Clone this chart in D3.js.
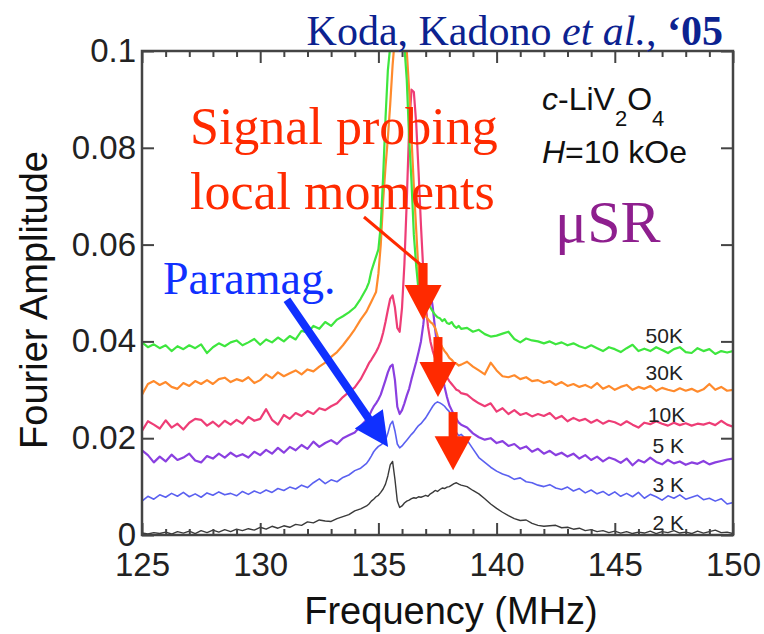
<!DOCTYPE html>
<html lang="en">
<head>
  <meta charset="utf-8" />
  <title>muSR Fourier spectra</title>
  <script src="https://cdn.jsdelivr.net/npm/d3@7"></script>
  <style>
    body { margin: 0; background: #fff; }
    .tick text { font-family: "Liberation Sans", Arial, sans-serif; font-size: 33px; fill: #222; }
    .tick line { stroke: #444; stroke-width: 2; }
    .serif { font-family: "Liberation Serif", "Times New Roman", serif; }
    .sans { font-family: "Liberation Sans", Arial, sans-serif; }
  </style>
</head>
<body>
  <script>
    // frequency grid (MHz): coarse, fine near the lines, coarse
    var freq = [].concat(
      d3.range(38).map(function (i) { return 125 + 0.25 * i; }),
      d3.range(41).map(function (i) { return 134.5 + 0.1 * i; }),
      d3.range(46).map(function (i) { return 138.75 + 0.25 * i; })
    );

    var temps = ["2 K", "3 K", "5 K", "10K", "30K", "50K"];

    var amp2K = [
      0.0004, 0.0002, 0.0005, 0.0003, 0.0006, 0.0002, 0.0007, 0.0004, 0.0008, 0.0003,
      0.0009, 0.0005, 0.0010, 0.0006, 0.0011, 0.0007, 0.0012, 0.0009, 0.0013, 0.0010,
      0.0016, 0.0012, 0.0018, 0.0014, 0.0019, 0.0016, 0.0022, 0.0020, 0.0027, 0.0025,
      0.0031, 0.0029, 0.0028, 0.0034, 0.0038, 0.0042, 0.0050, 0.0054,
      0.0060, 0.0064, 0.0070, 0.0074, 0.0079, 0.0082,
      0.0088, 0.0095, 0.0105, 0.0122, 0.0145, 0.0152, 0.0115, 0.0070, 0.0057,
      0.0060, 0.0066, 0.0070, 0.0072, 0.0075, 0.0077, 0.0076, 0.0079, 0.0078, 0.0080,
      0.0082, 0.0080, 0.0085, 0.0088, 0.0092, 0.0090, 0.0094, 0.0097, 0.0096, 0.0099,
      0.0100, 0.0103, 0.0106, 0.0108, 0.0105, 0.0103,
      0.0100, 0.0092, 0.0085, 0.0075, 0.0064, 0.0055, 0.0047, 0.0040, 0.0034, 0.0030,
      0.0031, 0.0024, 0.0020, 0.0018, 0.0019, 0.0020, 0.0015, 0.0016, 0.0012, 0.0014,
      0.0009, 0.0011, 0.0007, 0.0009, 0.0005, 0.0008, 0.0004, 0.0007, 0.0003, 0.0006,
      0.0004, 0.0008, 0.0003, 0.0007, 0.0005, 0.0009, 0.0004, 0.0006, 0.0003, 0.0008,
      0.0004, 0.0007, 0.0010, 0.0005, 0.0006, 0.0003
    ];
    var amp3K = [
      0.0070, 0.0080, 0.0074, 0.0083, 0.0078, 0.0086, 0.0080, 0.0088, 0.0079, 0.0085,
      0.0078, 0.0087, 0.0082, 0.0089, 0.0083, 0.0086, 0.0081, 0.0090, 0.0084, 0.0091,
      0.0086, 0.0093, 0.0088, 0.0096, 0.0092, 0.0099, 0.0095, 0.0103, 0.0098, 0.0108,
      0.0116, 0.0106, 0.0114, 0.0110, 0.0119, 0.0124, 0.0133, 0.0138,
      0.0148, 0.0155, 0.0163, 0.0172, 0.0178, 0.0183,
      0.0186, 0.0190, 0.0196, 0.0210, 0.0228, 0.0235, 0.0215, 0.0188, 0.0180,
      0.0184, 0.0190, 0.0196, 0.0202, 0.0208, 0.0213, 0.0220, 0.0226, 0.0230, 0.0236,
      0.0242, 0.0250, 0.0258, 0.0266, 0.0272, 0.0275, 0.0273, 0.0270, 0.0266, 0.0260,
      0.0255, 0.0248, 0.0230, 0.0212, 0.0205, 0.0208,
      0.0196, 0.0178, 0.0160, 0.0150, 0.0140, 0.0132, 0.0126, 0.0122, 0.0115, 0.0118,
      0.0110, 0.0108, 0.0103, 0.0100, 0.0104, 0.0097, 0.0094, 0.0099, 0.0091, 0.0096,
      0.0087, 0.0093, 0.0085, 0.0090, 0.0082, 0.0089, 0.0080, 0.0086, 0.0079, 0.0088,
      0.0076, 0.0084, 0.0079, 0.0072, 0.0081, 0.0076, 0.0083, 0.0074, 0.0078, 0.0082,
      0.0073, 0.0076, 0.0070, 0.0075, 0.0064, 0.0067
    ];
    var amp5K = [
      0.0175, 0.0165, 0.0150, 0.0162, 0.0152, 0.0166, 0.0155, 0.0160, 0.0168, 0.0154,
      0.0150, 0.0163, 0.0158, 0.0168, 0.0160, 0.0170, 0.0162, 0.0167, 0.0160, 0.0172,
      0.0165, 0.0176, 0.0168, 0.0180, 0.0170, 0.0182, 0.0175, 0.0186, 0.0178, 0.0193,
      0.0182, 0.0190, 0.0196, 0.0188, 0.0200, 0.0206, 0.0212, 0.0225,
      0.0238, 0.0245, 0.0256, 0.0265, 0.0272, 0.0280,
      0.0290, 0.0305, 0.0320, 0.0336, 0.0348, 0.0352, 0.0320, 0.0265, 0.0250,
      0.0258, 0.0272, 0.0288, 0.0302, 0.0322, 0.0340, 0.0358, 0.0378, 0.0400, 0.0435,
      0.0480, 0.0515, 0.0505, 0.0470, 0.0425, 0.0385, 0.0355, 0.0330, 0.0306, 0.0285,
      0.0268, 0.0258, 0.0248, 0.0240, 0.0232, 0.0228,
      0.0222, 0.0210, 0.0202, 0.0197, 0.0200, 0.0190, 0.0194, 0.0184, 0.0188, 0.0178,
      0.0183, 0.0172, 0.0178, 0.0168, 0.0174, 0.0165, 0.0170, 0.0162, 0.0168, 0.0158,
      0.0165, 0.0155, 0.0162, 0.0152, 0.0160, 0.0156, 0.0149, 0.0158, 0.0144, 0.0155,
      0.0150, 0.0160, 0.0151, 0.0146, 0.0155, 0.0148, 0.0152, 0.0145, 0.0150, 0.0147,
      0.0153, 0.0146, 0.0150, 0.0153, 0.0156, 0.0158
    ];
    var amp10K = [
      0.0215, 0.0235, 0.0228, 0.0220, 0.0237, 0.0222, 0.0230, 0.0218, 0.0232, 0.0240,
      0.0238, 0.0226, 0.0234, 0.0224, 0.0236, 0.0228, 0.0238, 0.0230, 0.0244, 0.0236,
      0.0240, 0.0260, 0.0238, 0.0228, 0.0248, 0.0240, 0.0252, 0.0246, 0.0256, 0.0250,
      0.0262, 0.0258, 0.0266, 0.0272, 0.0285, 0.0295, 0.0305, 0.0322,
      0.0345, 0.0355, 0.0362, 0.0370, 0.0378, 0.0388,
      0.0400, 0.0418, 0.0440, 0.0465, 0.0488, 0.0495, 0.0470, 0.0428, 0.0420,
      0.0470, 0.0560, 0.0690, 0.0840, 0.0920, 0.0915, 0.0850, 0.0750, 0.0640, 0.0545,
      0.0475, 0.0430, 0.0400, 0.0380, 0.0365, 0.0356, 0.0346, 0.0340, 0.0330, 0.0326,
      0.0318, 0.0312, 0.0306, 0.0300, 0.0298, 0.0293,
      0.0290, 0.0280, 0.0272, 0.0266, 0.0272, 0.0255, 0.0262, 0.0250, 0.0258, 0.0248,
      0.0252, 0.0245, 0.0250, 0.0246, 0.0252, 0.0240, 0.0246, 0.0235, 0.0242, 0.0236,
      0.0240, 0.0232, 0.0238, 0.0230, 0.0236, 0.0233, 0.0227, 0.0235, 0.0228, 0.0222,
      0.0232, 0.0229, 0.0235, 0.0230, 0.0226, 0.0232, 0.0227, 0.0231, 0.0226, 0.0230,
      0.0228, 0.0232, 0.0227, 0.0236, 0.0228, 0.0224
    ];
    var amp30K = [
      0.0290, 0.0312, 0.0318, 0.0310, 0.0316, 0.0306, 0.0302, 0.0314, 0.0308, 0.0318,
      0.0312, 0.0320, 0.0312, 0.0322, 0.0325, 0.0316, 0.0322, 0.0318, 0.0326, 0.0314,
      0.0320, 0.0332, 0.0324, 0.0336, 0.0328, 0.0334, 0.0340, 0.0332, 0.0342, 0.0338,
      0.0348, 0.0356, 0.0368, 0.0378, 0.0392, 0.0408, 0.0425, 0.0445,
      0.0462, 0.0472, 0.0482, 0.0492, 0.0502, 0.0540,
      0.0600, 0.0690, 0.0760, 0.0820, 0.0890, 0.0970, 0.1030, 0.1080, 0.1100,
      0.1080, 0.1040, 0.1000, 0.0920, 0.0820, 0.0720, 0.0630, 0.0540, 0.0480, 0.0462,
      0.0452, 0.0446, 0.0440, 0.0436, 0.0428, 0.0412, 0.0398, 0.0388, 0.0380, 0.0374,
      0.0366, 0.0362, 0.0356, 0.0354, 0.0350, 0.0352,
      0.0358, 0.0348, 0.0340, 0.0332, 0.0356, 0.0340, 0.0328, 0.0326, 0.0330, 0.0322,
      0.0326, 0.0318, 0.0320, 0.0314, 0.0318, 0.0310, 0.0316, 0.0308, 0.0312, 0.0306,
      0.0310, 0.0304, 0.0314, 0.0302, 0.0308, 0.0300, 0.0306, 0.0310, 0.0300, 0.0306,
      0.0302, 0.0308, 0.0298, 0.0304, 0.0300, 0.0297, 0.0303, 0.0298, 0.0302, 0.0296,
      0.0301, 0.0312, 0.0300, 0.0306, 0.0298, 0.0300
    ];
    var amp50K = [
      0.0398, 0.0388, 0.0394, 0.0386, 0.0392, 0.0380, 0.0390, 0.0384, 0.0392, 0.0386,
      0.0394, 0.0376, 0.0388, 0.0396, 0.0390, 0.0398, 0.0402, 0.0392, 0.0398, 0.0405,
      0.0393, 0.0404, 0.0398, 0.0408, 0.0400, 0.0411, 0.0404, 0.0422, 0.0418, 0.0432,
      0.0426, 0.0440, 0.0432, 0.0445, 0.0452, 0.0460, 0.0470, 0.0488,
      0.0510, 0.0522, 0.0545, 0.0560, 0.0575, 0.0590,
      0.0640, 0.0740, 0.0860, 0.0960, 0.1010, 0.1060, 0.1080, 0.1090, 0.1080,
      0.1060, 0.1010, 0.0940, 0.0820, 0.0730, 0.0620, 0.0555, 0.0505, 0.0490, 0.0486,
      0.0484, 0.0478, 0.0470, 0.0462, 0.0455, 0.0450, 0.0448, 0.0442, 0.0446, 0.0438,
      0.0436, 0.0440, 0.0432, 0.0428, 0.0432, 0.0426,
      0.0428, 0.0420, 0.0424, 0.0415, 0.0410, 0.0412, 0.0416, 0.0420, 0.0405, 0.0398,
      0.0406, 0.0402, 0.0400, 0.0396, 0.0400, 0.0394, 0.0398, 0.0392, 0.0396, 0.0390,
      0.0386, 0.0392, 0.0386, 0.0380, 0.0388, 0.0384, 0.0378, 0.0386, 0.0393, 0.0380,
      0.0385, 0.0380, 0.0388, 0.0382, 0.0376, 0.0384, 0.0388, 0.0378, 0.0376, 0.0386,
      0.0380, 0.0384, 0.0374, 0.0380, 0.0377, 0.0380
    ];

    var xTicks = [125, 130, 135, 140, 145, 150];
    var yTicks = [0, 0.02, 0.04, 0.06, 0.08, 0.1];

    var series = [amp2K, amp3K, amp5K, amp10K, amp30K, amp50K];
    var colors = ["#3a3a3a", "#5a60f0", "#8a3fe0", "#ee3d76", "#ff8a2c", "#3ee63e"];
    var widths = [1.4, 1.6, 2.2, 2.2, 2.2, 2.2];

    var width = 764, height = 634;
    var pL = 142, pR = 733, pT = 51, pB = 535;

    var svg = d3.select("body").append("svg")
      .attr("width", width)
      .attr("height", height);

    var x = d3.scaleLinear().domain([125, 150]).range([pL, pR]);
    var y = d3.scaleLinear().domain([0, 0.1]).range([pB, pT]);

    svg.append("clipPath").attr("id", "plot")
      .append("rect")
      .attr("x", pL).attr("y", pT)
      .attr("width", pR - pL).attr("height", pB - pT);

    // curves
    var line = d3.line()
      .x(function (d, i) { return x(freq[i]); })
      .y(function (d) { return y(d); });

    var curves = svg.append("g").attr("clip-path", "url(#plot)");
    series.forEach(function (s, j) {
      curves.append("path")
        .datum(s)
        .attr("d", line)
        .attr("fill", "none")
        .attr("stroke", colors[j])
        .attr("stroke-width", widths[j])
        .attr("stroke-linejoin", "round");
    });

    // axes, ticks pointing inward
    var minor = d3.range(126, 150).filter(function (v) { return v % 5 !== 0; });
    function fmtY(d) { return d === 0 ? "0" : String(+d.toFixed(2)); }

    svg.append("g").attr("transform", "translate(0," + pB + ")")
      .call(d3.axisBottom(x).tickValues(xTicks).tickSize(-12).tickPadding(18).tickFormat(d3.format("d")));
    svg.append("g").attr("transform", "translate(0," + pB + ")")
      .call(d3.axisBottom(x).tickValues(minor).tickSize(-6).tickFormat(""));
    svg.append("g").attr("transform", "translate(0," + pT + ")")
      .call(d3.axisTop(x).tickValues(xTicks).tickSize(-12).tickFormat(""));
    svg.append("g").attr("transform", "translate(0," + pT + ")")
      .call(d3.axisTop(x).tickValues(minor).tickSize(-6).tickFormat(""));
    svg.append("g").attr("transform", "translate(" + pL + ",0)")
      .call(d3.axisLeft(y).tickValues(yTicks).tickSize(-12).tickPadding(6).tickFormat(fmtY));
    svg.append("g").attr("transform", "translate(" + pR + ",0)")
      .call(d3.axisRight(y).tickValues(yTicks).tickSize(-12).tickFormat(""));
    svg.selectAll(".domain").remove();

    svg.append("rect")
      .attr("x", pL).attr("y", pT)
      .attr("width", pR - pL).attr("height", pB - pT)
      .attr("fill", "none")
      .attr("stroke", "#444")
      .attr("stroke-width", 2.5);

    // axis titles
    svg.append("text")
      .attr("class", "sans")
      .attr("x", 451).attr("y", 624)
      .attr("text-anchor", "middle")
      .attr("font-size", 38)
      .attr("fill", "#111")
      .text("Frequency (MHz)");
    svg.append("text")
      .attr("class", "sans")
      .attr("transform", "translate(47,300) rotate(-90)")
      .attr("text-anchor", "middle")
      .attr("font-size", 38)
      .attr("fill", "#111")
      .text("Fourier Amplitude");

    // temperature labels
    var labelF = [146.6, 146.6, 146.6, 146.4, 146.3, 146.3];
    var labelA = [0.0010, 0.0089, 0.0169, 0.0233, 0.0320, 0.0397];
    temps.forEach(function (t, j) {
      svg.append("text")
        .attr("class", "sans")
        .attr("x", x(labelF[j])).attr("y", y(labelA[j]))
        .attr("font-size", 21)
        .attr("fill", "#222")
        .text(t);
    });

    // sample / field
    var info = svg.append("text").attr("class", "sans")
      .attr("x", 542).attr("y", 110).attr("font-size", 32).attr("fill", "#111");
    info.append("tspan").attr("font-style", "italic").text("c");
    info.append("tspan").text("-LiV");
    info.append("tspan").attr("font-size", 22).attr("dy", 16).text("2");
    info.append("tspan").attr("dy", -16).text("O");
    info.append("tspan").attr("font-size", 22).attr("dy", 16).text("4");

    var field = svg.append("text").attr("class", "sans")
      .attr("x", 542).attr("y", 163).attr("font-size", 32).attr("fill", "#111");
    field.append("tspan").attr("font-style", "italic").text("H");
    field.append("tspan").text("=10 kOe");

    svg.append("text").attr("class", "serif")
      .attr("x", 555).attr("y", 242).attr("font-size", 60).attr("fill", "#8e1f8e")
      .text("\u03bcSR");

    // citation
    var cite = svg.append("text").attr("class", "serif")
      .attr("x", 723).attr("y", 45).attr("text-anchor", "end")
      .attr("font-size", 42).attr("fill", "#0c2290");
    cite.append("tspan").text("Koda, Kadono ");
    cite.append("tspan").attr("font-style", "italic").text("et al.");
    cite.append("tspan").text(", ");
    cite.append("tspan").attr("font-weight", "bold").text("\u201805");

    // annotations
    var red = "#ff2a00", blue = "#1030ff";
    svg.append("text").attr("class", "serif")
      .attr("x", 190).attr("y", 144).attr("font-size", 52).attr("fill", red)
      .text("Signal probing");
    svg.append("text").attr("class", "serif")
      .attr("x", 190).attr("y", 209).attr("font-size", 52).attr("fill", red)
      .text("local moments");
    svg.append("text").attr("class", "serif")
      .attr("x", 163).attr("y", 294).attr("font-size", 46).attr("fill", blue)
      .text("Paramag.");

    // arrows anchored in data units
    function arrow(x0, y0, x1, y1, shaft, headLen, headW, color) {
      var px0 = x(x0), py0 = y(y0), px1 = x(x1), py1 = y(y1);
      var dx = px1 - px0, dy = py1 - py0, L = Math.sqrt(dx * dx + dy * dy);
      var ux = dx / L, uy = dy / L, nx = -uy, ny = ux;
      var bx = px1 - ux * headLen, by = py1 - uy * headLen;
      svg.append("line")
        .attr("x1", px0).attr("y1", py0).attr("x2", bx + ux * 2).attr("y2", by + uy * 2)
        .attr("stroke", color).attr("stroke-width", shaft);
      svg.append("path")
        .attr("d", "M" + px1 + "," + py1 +
          "L" + (bx + nx * headW / 2) + "," + (by + ny * headW / 2) +
          "L" + (bx - nx * headW / 2) + "," + (by - ny * headW / 2) + "Z")
        .attr("fill", color);
    }

    svg.append("line")
      .attr("x1", x(134.39)).attr("y1", y(0.0657))
      .attr("x2", x(136.85)).attr("y2", y(0.0556))
      .attr("stroke", red).attr("stroke-width", 3);

    arrow(131.13, 0.0486, 135.41, 0.0182, 8, 34, 34, blue);
    arrow(136.89, 0.0562, 136.89, 0.0444, 9, 35, 37, red);
    arrow(137.52, 0.0409, 137.52, 0.0285, 9, 35, 37, red);
    arrow(138.16, 0.0254, 138.16, 0.0134, 9, 34, 37, red);
  </script>
</body>
</html>
